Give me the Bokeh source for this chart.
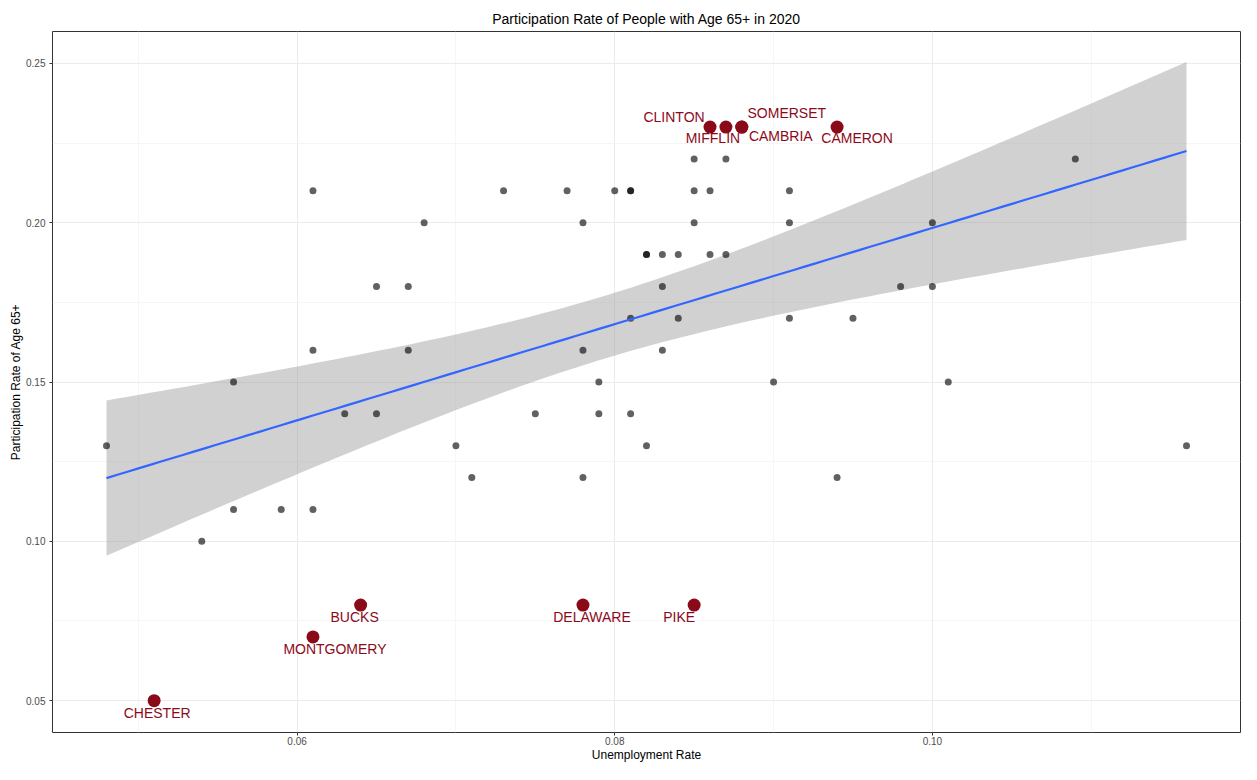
import numpy as np
from bokeh.plotting import figure
from bokeh.models import ColumnDataSource, FixedTicker, PrintfTickFormatter
from bokeh.core.properties import value
from bokeh.embed import file_html
from bokeh.resources import INLINE

# ---- data ----
grey_unemp = [0.048, 0.054, 0.056, 0.056, 0.059, 0.061, 0.061, 0.061, 0.063, 0.065,
              0.065, 0.067, 0.067, 0.068, 0.070, 0.071, 0.073, 0.075, 0.077, 0.078,
              0.078, 0.078, 0.079, 0.079, 0.080, 0.081, 0.081, 0.081, 0.081, 0.082,
              0.082, 0.082, 0.083, 0.083, 0.083, 0.084, 0.084, 0.085, 0.085, 0.085,
              0.086, 0.086, 0.087, 0.087, 0.090, 0.091, 0.091, 0.091, 0.094, 0.095,
              0.098, 0.100, 0.100, 0.101, 0.109, 0.116]
grey_part = [0.13, 0.10, 0.15, 0.11, 0.11, 0.21, 0.16, 0.11, 0.14, 0.18,
             0.14, 0.18, 0.16, 0.20, 0.13, 0.12, 0.21, 0.14, 0.21, 0.20,
             0.16, 0.12, 0.15, 0.14, 0.21, 0.21, 0.21, 0.17, 0.14, 0.19,
             0.19, 0.13, 0.19, 0.18, 0.16, 0.19, 0.17, 0.22, 0.21, 0.20,
             0.21, 0.19, 0.22, 0.19, 0.15, 0.21, 0.20, 0.17, 0.12, 0.17,
             0.18, 0.20, 0.18, 0.15, 0.22, 0.13]

red_county = ["CHESTER", "MONTGOMERY", "BUCKS", "DELAWARE", "PIKE",
              "CLINTON", "MIFFLIN", "SOMERSET", "CAMBRIA", "CAMERON"]
red_unemp = [0.051, 0.061, 0.064, 0.078, 0.085, 0.086, 0.087, 0.088, 0.088, 0.094]
red_part = [0.05, 0.07, 0.08, 0.08, 0.08, 0.23, 0.23, 0.23, 0.23, 0.23]

x_ticks = [0.06, 0.08, 0.10]
y_ticks = [0.05, 0.10, 0.15, 0.20, 0.25]

# label offsets in screen pixels (repel-like placement)
label_dx = [3, 22, -6, 9, -15, -36, -13, 45, 39, 20]
label_dy = [12, 12, 12, 12, 12, -10, 11, -14, 9, 11]

# ---- linear fit with 95% confidence band (all counties) ----
all_x = np.array(grey_unemp + red_unemp)
all_y = np.array(grey_part + red_part)
n = len(all_x)
xbar, ybar = all_x.mean(), all_y.mean()
sxx = ((all_x - xbar) ** 2).sum()
slope = ((all_x - xbar) * (all_y - ybar)).sum() / sxx
intercept = ybar - slope * xbar
resid = all_y - (intercept + slope * all_x)
s = np.sqrt((resid ** 2).sum() / (n - 2))
t_crit = 1.998
xs = np.linspace(all_x.min(), all_x.max(), 100)
fit = intercept + slope * xs
se = s * np.sqrt(1.0 / n + (xs - xbar) ** 2 / sxx)
lower = fit - t_crit * se
upper = fit + t_crit * se

FONT = "Liberation Sans"

p = figure(width=1241, height=764, output_backend="svg", toolbar_location=None,
           x_range=(0.0446, 0.1194), y_range=(0.04, 0.26),
           title="Participation Rate of People with Age 65+ in 2020",
           min_border_left=52, min_border_right=1, min_border_top=31, min_border_bottom=16)

p.title.align = "center"
p.title.text_font = FONT
p.title.text_font_size = "14px"
p.title.text_font_style = "normal"
p.title.text_color = "#000000"
p.title.standoff = 10

p.background_fill_color = "white"
p.border_fill_color = "white"
p.outline_line_color = "#333333"
p.outline_line_width = 1

p.xaxis.ticker = FixedTicker(ticks=x_ticks, minor_ticks=[0.05, 0.07, 0.09, 0.11])
p.yaxis.ticker = FixedTicker(ticks=y_ticks, minor_ticks=[0.075, 0.125, 0.175, 0.225])
p.xaxis.formatter = PrintfTickFormatter(format="%.2f")
p.yaxis.formatter = PrintfTickFormatter(format="%.2f")
for ax in (p.xaxis, p.yaxis):
    ax.axis_line_color = None
    ax.major_tick_line_color = "#333333"
    ax.major_tick_out = 3
    ax.major_tick_in = 0
    ax.minor_tick_line_color = None
    ax.major_label_text_font = FONT
    ax.major_label_text_font_size = "10px"
    ax.major_label_text_color = "#4d4d4d"
    ax.axis_label_text_font = FONT
    ax.axis_label_text_font_size = "12px"
    ax.axis_label_text_font_style = "normal"
    ax.axis_label_text_color = "#000000"
p.xaxis.major_label_standoff = 0
p.xaxis.axis_label_standoff = 0
p.yaxis.major_label_standoff = 3
p.yaxis.axis_label_standoff = 0
p.xaxis.axis_label = "Unemployment Rate"
p.yaxis.axis_label = "Participation Rate of Age 65+"

p.grid.grid_line_color = "#ebebeb"
p.grid.grid_line_width = 1
p.grid.minor_grid_line_color = "#f4f4f4"
p.grid.minor_grid_line_width = 0.8

# confidence band and fitted line
p.varea(x=xs, y1=lower, y2=upper, fill_color="#999999", fill_alpha=0.45)

# all counties as grey points
p.scatter(x=all_x, y=all_y, size=7, fill_color="black", fill_alpha=0.62,
          line_color=None)

p.line(x=xs, y=fit, line_color="#3366FF", line_width=2.2)

# highlighted counties
src = ColumnDataSource(dict(x=red_unemp, y=red_part, name=red_county,
                            dx=label_dx, dy=label_dy))
p.scatter(x="x", y="y", source=src, size=13, fill_color="#8B0A1A",
          line_color=None)
p.text(x="x", y="y", text="name", x_offset="dx", y_offset="dy", source=src,
       text_font=value(FONT), text_font_size="14px", text_color="#8B0A1A",
       text_align="center", text_baseline="middle")

open("out.html", "w").write(file_html(p, INLINE))
